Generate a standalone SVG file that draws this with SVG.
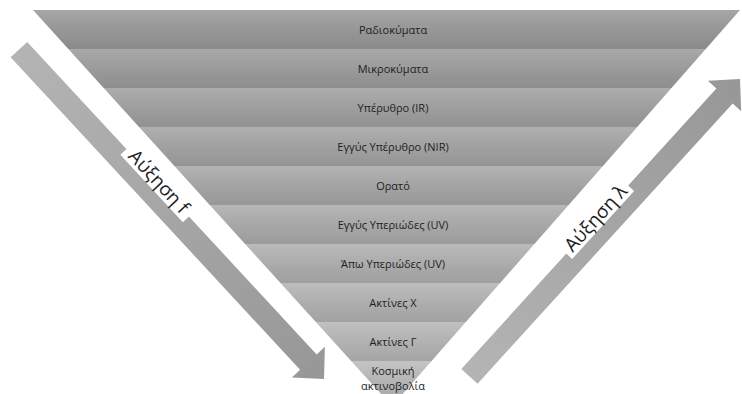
<svg xmlns="http://www.w3.org/2000/svg" width="742" height="394" viewBox="0 0 742 394">
<style>
.lbl{font-family:"Open Sans","Noto Sans",sans-serif;font-size:11px;fill:#1e1e1e;text-anchor:middle}
.big{font-family:"Open Sans","Noto Sans",sans-serif;font-size:19px;fill:#1e1e1e;text-anchor:middle}
.sh{fill:url(#shade)}
.arrow{fill:url(#arrowGrad)}
.box{fill:#fff}
</style>
<defs>
<clipPath id="tri"><polygon points="33,10 740,10 392,406"/></clipPath>
<linearGradient id="shadeGrad" x1="0" y1="0" x2="0" y2="1"><stop offset="0" stop-color="#fff" stop-opacity="0.12"/><stop offset="1" stop-color="#000" stop-opacity="0.1"/></linearGradient>
<pattern id="shade" patternUnits="userSpaceOnUse" x="0" y="10" width="742" height="39"><rect width="742" height="39" fill="url(#shadeGrad)"/></pattern>
<linearGradient id="arrowGrad" x1="0" y1="0" x2="1" y2="0"><stop offset="0" stop-color="#b4b4b4"/><stop offset="1" stop-color="#979797"/></linearGradient>
</defs>
<rect width="742" height="394" fill="#fff"/>
<g id="bands" clip-path="url(#tri)">
<g id="band-0"><rect x="0" y="10" width="742" height="39" fill="#9a9a9a"/><rect class="sh" x="0" y="10" width="742" height="39"/></g>
<g id="band-1"><rect x="0" y="49" width="742" height="39" fill="#9e9e9e"/><rect class="sh" x="0" y="49" width="742" height="39"/></g>
<g id="band-2"><rect x="0" y="88" width="742" height="39" fill="#a2a2a2"/><rect class="sh" x="0" y="88" width="742" height="39"/></g>
<g id="band-3"><rect x="0" y="127" width="742" height="39" fill="#a5a5a5"/><rect class="sh" x="0" y="127" width="742" height="39"/></g>
<g id="band-4"><rect x="0" y="166" width="742" height="39" fill="#a9a9a9"/><rect class="sh" x="0" y="166" width="742" height="39"/></g>
<g id="band-5"><rect x="0" y="205" width="742" height="39" fill="#adadad"/><rect class="sh" x="0" y="205" width="742" height="39"/></g>
<g id="band-6"><rect x="0" y="244" width="742" height="39" fill="#b1b1b1"/><rect class="sh" x="0" y="244" width="742" height="39"/></g>
<g id="band-7"><rect x="0" y="283" width="742" height="39" fill="#b4b4b4"/><rect class="sh" x="0" y="283" width="742" height="39"/></g>
<g id="band-8"><rect x="0" y="322" width="742" height="39" fill="#b8b8b8"/><rect class="sh" x="0" y="322" width="742" height="39"/></g>
<g id="band-9"><rect x="0" y="361" width="742" height="39" fill="#bcbcbc"/><rect class="sh" x="0" y="361" width="742" height="39"/></g>
</g>
<g id="labels">
<text class="lbl" x="393" y="33.5">Ραδιοκύματα</text>
<text class="lbl" x="393" y="72.5">Μικροκύματα</text>
<text class="lbl" x="393" y="111.5">Υπέρυθρο (IR)</text>
<text class="lbl" x="393" y="150.5">Εγγύς Υπέρυθρο (NIR)</text>
<text class="lbl" x="393" y="189.5">Ορατό</text>
<text class="lbl" x="393" y="228.5">Εγγύς Υπεριώδες (UV)</text>
<text class="lbl" x="393" y="267.5">Άπω Υπεριώδες (UV)</text>
<text class="lbl" x="393" y="306.5">Ακτίνες Χ</text>
<text class="lbl" x="393" y="345.5">Ακτίνες Γ</text>
<text class="lbl" x="393" y="375">Κοσμική</text>
<text class="lbl" x="393" y="389.5">ακτινοβολία</text>
</g>
<g id="arrows">
<g id="arrow-f" transform="translate(324,379) rotate(47.2)">
<polygon class="arrow" points="-449,-11.3 -23,-11.3 -23,-22.5 0,0 -23,22.5 -23,11.3 -449,11.3"/>
<rect class="box" x="-303" y="-26" width="92" height="23"/>
<text class="big" x="-257" y="-6.5">Αύξηση f</text>
</g>
<g id="arrow-l" transform="translate(740,79) rotate(-47.7)">
<polygon class="arrow" points="-402,-11 -23,-11 -23,-22.5 0,0 -23,22.5 -23,11 -402,11"/>
<rect class="box" x="-246" y="-26" width="92" height="23"/>
<text class="big" x="-200" y="-6.5">Αύξηση λ</text>
</g>
</g>
</svg>
